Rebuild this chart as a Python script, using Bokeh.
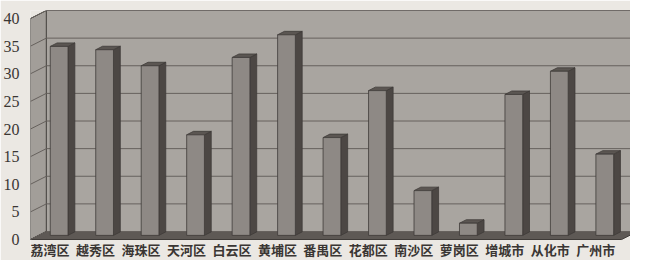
from bokeh.plotting import figure
from bokeh.models import FixedTicker, Range1d
from bokeh.core.properties import value
from bokeh.embed import file_html
from bokeh.resources import INLINE

districts = ["荔湾区", "越秀区", "海珠区", "天河区", "白云区", "黄埔区", "番禺区",
             "花都区", "南沙区", "萝岗区", "增城市", "从化市", "广州市"]
values = [34.2, 33.6, 30.7, 18.2, 32.2, 36.3, 17.7, 26.2, 8.1, 2.2, 25.5, 29.7, 14.7]
y_ticks = [0, 5, 10, 15, 20, 25, 30, 35, 40]

n = len(districts)
YMAX = 40
DX, DY = 0.348, 1.45        # full 3D depth offset (data units)
X_END = 12.696
HEIGHT = 260
BORDER_TOP = 10
PX_PER_UNIT = 5.525
Y_TOP = YMAX + DY
Y_START = Y_TOP - (HEIGHT - BORDER_TOP) / PX_PER_UNIT
W = 0.39                    # bar front width
OX, OY = 0.13, 0.75         # bar front face offset into depth
BDX, BDY = 0.15, 0.63       # bar depth
LABEL_Y = -1.85
LABEL_SHIFT = -0.07

PAPER = "#ebe8e3"
WALL = "#a9a5a0"
SIDEWALL = "#a29e99"
FLOOR = "#5e5955"
GRID = "#66615d"
FRONT = "#8e8985"
SIDE = "#4c4744"
TOP = "#5b5652"
EDGE = "#3f3b38"

p = figure(width=630, height=HEIGHT, x_range=Range1d(-0.5, X_END),
           y_range=Range1d(Y_START, Y_TOP), output_backend="svg",
           toolbar_location=None, min_border_left=23, min_border_right=0,
           min_border_top=BORDER_TOP, min_border_bottom=0)
p.background_fill_color = PAPER
p.border_fill_color = PAPER
p.outline_line_color = None
p.xgrid.visible = False
p.ygrid.visible = False
p.xaxis.visible = False

x0 = -0.5
# back wall
p.patch([x0 + DX, X_END, X_END, x0 + DX], [DY, DY, YMAX + DY, YMAX + DY],
        fill_color=WALL, line_color=None)
# left side wall
p.patch([x0, x0 + DX, x0 + DX, x0], [0, DY, YMAX + DY, YMAX],
        fill_color=SIDEWALL, line_color=EDGE, line_width=1)
# floor
p.patch([x0, n - 0.5, n - 0.5 + DX, x0 + DX], [0, 0, DY, DY],
        fill_color=FLOOR, line_color=EDGE, line_width=1)

# gridlines on back wall and left wall
gx, gy = [], []
for t in y_ticks:
    gx.append([x0 + DX, X_END]); gy.append([t + DY, t + DY])
    gx.append([x0, x0 + DX]); gy.append([t, t + DY])
p.multi_line(gx, gy, line_color=GRID, line_width=1)
p.line([x0 + DX, X_END], [YMAX + DY, YMAX + DY], line_color=EDGE, line_width=1)

# bars
xs = list(range(n))
lefts = [i - W / 2 + OX for i in xs]
rights = [i + W / 2 + OX for i in xs]
tops = [v + OY for v in values]

side_x, side_y, top_x, top_y = [], [], [], []
for l, r, t in zip(lefts, rights, tops):
    side_x.append([r, r + BDX, r + BDX, r])
    side_y.append([OY, OY + BDY, t + BDY, t])
    top_x.append([l, l + BDX, r + BDX, r])
    top_y.append([t, t + BDY, t + BDY, t])

p.patches(side_x, side_y, fill_color=SIDE, line_color=EDGE, line_width=0.8)
p.patches(top_x, top_y, fill_color=TOP, line_color=EDGE, line_width=0.8)
p.quad(left=lefts, right=rights, bottom=OY, top=tops,
       fill_color=FRONT, line_color=EDGE, line_width=0.8)

# category labels
p.text(x=[i + LABEL_SHIFT for i in xs], y=[LABEL_Y] * n, text=districts,
       text_font=value("Noto Sans CJK SC"), text_font_style="bold",
       text_font_size="13px", text_color="#3a3633",
       text_align="center", text_baseline="middle")

# y axis
p.yaxis.ticker = FixedTicker(ticks=y_ticks)
p.yaxis.major_label_text_font = "Liberation Serif"
p.yaxis.major_label_text_font_size = "16px"
p.yaxis.major_label_text_color = "#3a3633"
p.yaxis.major_label_standoff = 5
p.yaxis.axis_line_color = None
p.yaxis.major_tick_line_color = None
p.yaxis.minor_tick_line_color = None

open("out.html", "w").write(file_html(p, INLINE))
